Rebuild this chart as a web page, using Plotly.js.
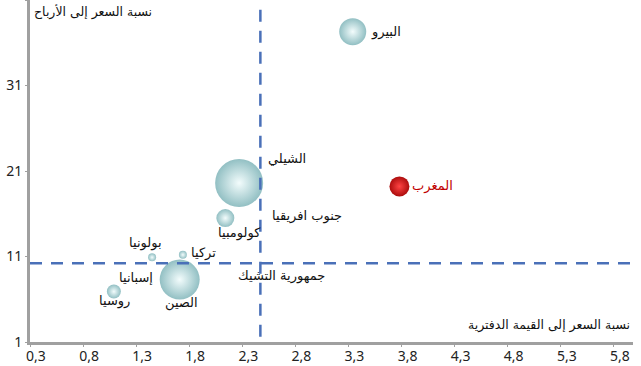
<!DOCTYPE html>
<html><head><meta charset="utf-8">
<script src="https://cdn.plot.ly/plotly-3.0.1.min.js"></script>
<style>html,body{margin:0;padding:0;background:#fff}#chart{width:641px;height:366px}</style>
</head><body><div id="chart"></div>
<script>
// Data
const countries = ["البيرو","الشيلي","كولومبيا","المغرب","بولونيا","تركيا","الصين","روسيا"];
const priceToBook = [3.34, 2.27, 2.14, 3.78, 1.45, 1.74, 1.71, 1.09];
const priceToEarnings = [37.3, 19.6, 15.5, 19.2, 10.9, 11.2, 8.3, 6.9];
const bubbleSize = [27, 48, 18, 20, 8, 8, 40, 14];
const labelOnly = ["جنوب افريقيا","إسبانيا","جمهورية التشيك"];
const labelOnlyX = [2.56, 1.48, 2.24];
const labelOnlyY = [15.7, 8.6, 8.7];
const avgPB = 2.47;
const avgPE = 10.2;
const xTitle = "نسبة السعر إلى القيمة الدفترية";
const yTitle = "نسبة السعر إلى الأرباح";
const highlight = "المغرب";

// Styles
const labelShift = {
  "البيرو": {xs: 16, ys: 0, xa: "left"},
  "الشيلي": {xs: 27, ys: 24, xa: "left"},
  "كولومبيا": {xs: 14, ys: -15, xa: "center"},
  "المغرب": {xs: 11, ys: 0, xa: "left"},
  "بولونيا": {xs: -7, ys: 14, xa: "center"},
  "تركيا": {xs: 6, ys: 2, xa: "left"},
  "الصين": {xs: 2, ys: -23, xa: "center"},
  "روسيا": {xs: 1, ys: -9, xa: "center"}
};
const labelOnlyAnchor = ["left","right","left"];

const edgeColors = countries.map(c => c === highlight ? "#a80000" : "#8cbcc0");
const centerColors = countries.map(c => c === highlight ? "#ff3a3a" : "#f2fcfc");

const trace = {
  type: "scatter", mode: "markers",
  x: priceToBook, y: priceToEarnings,
  marker: {size: bubbleSize, sizemode: "diameter", color: edgeColors,
    gradient: {type: "radial", color: centerColors}, line: {width: 0}, opacity: 0.95},
  hoverinfo: "skip", showlegend: false
};

const fontAr = "DejaVu Sans, Noto Sans, sans-serif";
const annotations = [];
countries.forEach((c, i) => {
  const s = labelShift[c];
  annotations.push({x: priceToBook[i], y: priceToEarnings[i], xref: "x", yref: "y",
    text: c, showarrow: false, xanchor: s.xa, yanchor: "middle", xshift: s.xs, yshift: s.ys,
    font: {family: fontAr, size: 13, color: c === highlight ? "#c00000" : "#111"}});
});
labelOnly.forEach((c, i) => {
  annotations.push({x: labelOnlyX[i], y: labelOnlyY[i], xref: "x", yref: "y",
    text: c, showarrow: false, xanchor: labelOnlyAnchor[i], yanchor: "middle",
    font: {family: fontAr, size: 13, color: "#111"}});
});
annotations.push({x: 0.998, y: 0.02, xref: "paper", yref: "paper", text: xTitle, showarrow: false,
  xanchor: "right", yanchor: "bottom", font: {family: fontAr, size: 12.5, color: "#111"}});
annotations.push({x: 0.004, y: 0.995, xref: "paper", yref: "paper", text: yTitle, showarrow: false,
  xanchor: "left", yanchor: "top", font: {family: fontAr, size: 12.5, color: "#111"}});

const layout = {
  width: 641, height: 366,
  margin: {l: 30, r: 8, t: 0, b: 24},
  paper_bgcolor: "#fff", plot_bgcolor: "#fff",
  separators: ",.",
  xaxis: {range: [0.3, 5.98], tick0: 0.3, dtick: 0.5, tickformat: ".1f",
    showgrid: false, zeroline: false, showline: true, linecolor: "#a0a0a0", linewidth: 3,
    ticks: "outside", ticklen: 2, tickcolor: "#a0a0a0", tickwidth: 1,
    ticklabelstandoff: -3, ticklabelshift: 6,
    tickfont: {family: "Noto Sans, sans-serif", size: 14, color: "#222"}},
  yaxis: {range: [1, 41], tick0: 1, dtick: 10,
    showgrid: false, zeroline: false, showline: true, linecolor: "#a0a0a0", linewidth: 3,
    ticks: "outside", ticklen: 2, tickcolor: "#a0a0a0", tickwidth: 1,
    tickfont: {family: "Noto Sans, sans-serif", size: 14, color: "#222"}},
  shapes: [
    {type: "line", xref: "x", yref: "paper", x0: avgPB, x1: avgPB, y0: 0.015, y1: 0.975,
      line: {color: "#4a70b8", width: 2.5, dash: "12px,9px"}},
    {type: "line", xref: "paper", yref: "y", x0: 0, x1: 1, y0: avgPE, y1: avgPE,
      line: {color: "#4a70b8", width: 2.5, dash: "12px,9px"}}
  ],
  annotations: annotations
};

Plotly.newPlot("chart", [trace], layout, {displayModeBar: false, staticPlot: true});
</script></body></html>
